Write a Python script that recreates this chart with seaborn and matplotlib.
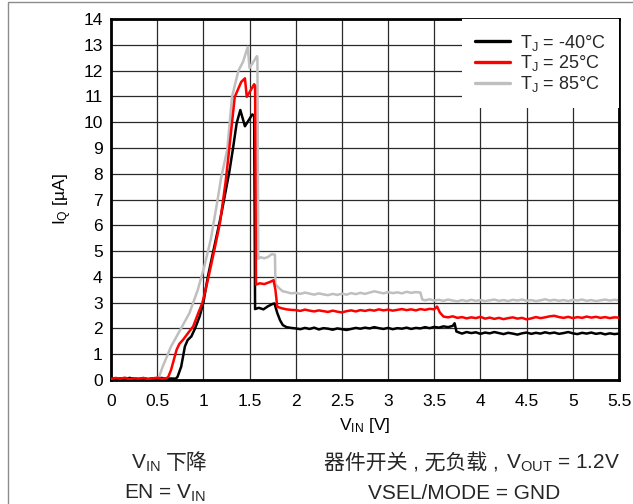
import numpy as np
import pandas as pd
import matplotlib as mpl
mpl.use('Agg')
import matplotlib.pyplot as plt
from matplotlib.patches import Rectangle
import seaborn as sns

# ---- data (V_IN [V], I_Q [uA]) ----
# T_J = -40°C
x_m40 = ([0.00, 0.05, 0.10, 0.15, 0.20, 0.25, 0.30, 0.35, 0.40, 0.45, 0.50, 0.55, 0.60, 0.65, 0.70,
          0.72, 0.76, 0.80, 0.83, 0.87, 0.91, 0.96, 1.00, 1.05, 1.12, 1.19, 1.28, 1.32, 1.36, 1.40,
          1.45, 1.53, 1.55, 1.56, 1.60, 1.65, 1.70, 1.75, 1.77, 1.80, 1.83, 1.86, 1.90, 1.95]
         + list(np.round(np.arange(2.00, 3.701, 0.05), 2)) + [3.72, 3.74]
         + list(np.round(np.arange(3.80, 5.501, 0.05), 2)))
y_m40 = [0.07, 0.04, 0.06, 0.03, 0.08, 0.05, 0.04, 0.07, 0.03, 0.06, 0.05, 0.08, 0.04, 0.06, 0.05,
         0.12, 0.52, 1.30, 1.55, 1.69, 2.00, 2.47, 3.00, 4.03, 5.20, 6.36, 8.05, 8.96, 9.95, 10.47,
         9.84, 10.30, 10.25, 2.75, 2.80, 2.74, 2.86, 2.95, 2.97, 2.60, 2.32, 2.13, 2.05, 2.02,
         2.00, 1.97, 2.02, 1.98, 2.03, 1.96, 2.01, 1.99, 1.95, 2.00, 1.97, 1.94, 1.98, 2.02, 1.99,
         2.03, 2.00, 2.05, 2.01, 1.98, 2.02, 1.97, 2.01, 1.99, 2.03, 1.98, 2.02, 2.00, 2.05, 2.01,
         2.06, 2.03, 2.08, 2.05, 2.10,
         2.20, 1.88,
         1.80, 1.86, 1.82, 1.85, 1.79, 1.84, 1.81, 1.86, 1.82, 1.78, 1.83, 1.80, 1.76, 1.81, 1.84,
         1.79, 1.83, 1.80, 1.85, 1.81, 1.84, 1.79, 1.82, 1.86, 1.81, 1.78, 1.83, 1.80, 1.84, 1.79,
         1.82, 1.77, 1.81, 1.78, 1.80]

# T_J = 25°C
x_25 = ([0.00, 0.05, 0.10, 0.15, 0.20, 0.25, 0.30, 0.35, 0.40, 0.45, 0.50, 0.55, 0.60,
         0.62, 0.65, 0.71, 0.74, 0.78, 0.83, 0.89, 0.94, 0.99, 1.05, 1.12, 1.18, 1.24, 1.28, 1.34,
         1.41, 1.45, 1.47, 1.55, 1.56, 1.57, 1.61, 1.66, 1.72, 1.76, 1.78, 1.80, 1.85, 1.90, 1.95]
        + list(np.round(np.arange(2.00, 3.501, 0.05), 2)) + [3.53, 3.56, 3.60]
        + list(np.round(np.arange(3.65, 5.501, 0.05), 2)))
y_25 = [0.04, 0.08, 0.05, 0.09, 0.03, 0.07, 0.05, 0.08, 0.04, 0.06, 0.09, 0.05, 0.07,
        0.12, 0.39, 1.17, 1.40, 1.56, 1.80, 2.08, 2.55, 3.00, 3.90, 5.06, 6.10, 7.66, 8.96, 10.98,
        11.56, 11.70, 10.98, 11.47, 11.40, 3.70, 3.75, 3.72, 3.80, 3.87, 3.50, 2.84, 2.78, 2.74, 2.72,
        2.71, 2.68, 2.73, 2.69, 2.66, 2.70, 2.67, 2.64, 2.69, 2.65, 2.62, 2.67, 2.70, 2.66, 2.71,
        2.68, 2.72, 2.69, 2.74, 2.70, 2.73, 2.69, 2.72, 2.75, 2.71, 2.74, 2.70, 2.75, 2.72, 2.76,
        2.74,
        2.85, 2.62, 2.46,
        2.43, 2.47, 2.41, 2.44, 2.39, 2.43, 2.40, 2.45, 2.38, 2.42, 2.37, 2.41, 2.36, 2.40, 2.43,
        2.38, 2.41, 2.35, 2.39, 2.44, 2.40, 2.43, 2.47, 2.49, 2.44, 2.41, 2.45, 2.40, 2.44, 2.41,
        2.46, 2.42, 2.45, 2.41, 2.44, 2.40, 2.43, 2.42]

# T_J = 85°C
x_85 = ([0.00, 0.05, 0.10, 0.15, 0.20, 0.25, 0.30, 0.35, 0.40, 0.45, 0.50,
         0.52, 0.56, 0.65, 0.74, 0.85, 0.94, 1.01, 1.08, 1.15, 1.19, 1.26, 1.31, 1.38, 1.43, 1.48,
         1.50, 1.58, 1.585, 1.595, 1.62, 1.66, 1.70, 1.74, 1.775, 1.78, 1.82, 1.86, 1.90, 1.95]
        + list(np.round(np.arange(2.00, 3.351, 0.05), 2)) + [3.37]
        + list(np.round(np.arange(3.40, 5.501, 0.05), 2)))
y_85 = [0.06, 0.03, 0.07, 0.04, 0.08, 0.05, 0.03, 0.06, 0.04, 0.07, 0.06,
        0.12, 0.52, 1.30, 1.88, 2.60, 3.50, 4.40, 5.45, 6.90, 7.80, 8.96, 10.98, 12.00, 12.34, 12.92,
        12.10, 12.56, 12.50, 4.70, 4.76, 4.72, 4.77, 4.88, 4.86, 3.72, 3.56, 3.44, 3.41, 3.36,
        3.38, 3.34, 3.39, 3.35, 3.31, 3.36, 3.32, 3.29, 3.34, 3.30, 3.35, 3.31, 3.37, 3.33, 3.38,
        3.34, 3.39, 3.44, 3.40, 3.36, 3.41, 3.37, 3.40, 3.36, 3.42, 3.38, 3.41, 3.39,
        3.12,
        3.09, 3.13, 3.08, 3.11, 3.07, 3.12, 3.08, 3.05, 3.10, 3.06, 3.11, 3.07, 3.10, 3.06, 3.09,
        3.12, 3.07, 3.10, 3.06, 3.11, 3.08, 3.12, 3.07, 3.10, 3.06, 3.09, 3.13, 3.08, 3.11, 3.07,
        3.10, 3.06, 3.11, 3.08, 3.12, 3.07, 3.10, 3.06, 3.09, 3.12, 3.08, 3.11, 3.09]

labels = [r'$\mathregular{T_J}$ = -40°C', r'$\mathregular{T_J}$ = 25°C', r'$\mathregular{T_J}$ = 85°C']
colors = ['black', '#ff0000', '#bfbfbf']
x_ticks = [0, 0.5, 1, 1.5, 2, 2.5, 3, 3.5, 4, 4.5, 5, 5.5]
x_ticklabels = ['0', '0.5', '1', '1.5', '2', '2.5', '3', '3.5', '4', '4.5', '5', '5.5']
y_ticks = list(range(0, 15))

df = pd.concat([
    pd.DataFrame({'vin': x_m40, 'iq': y_m40, 'tj': labels[0]}),
    pd.DataFrame({'vin': x_25, 'iq': y_25, 'tj': labels[1]}),
    pd.DataFrame({'vin': x_85, 'iq': y_85, 'tj': labels[2]}),
], ignore_index=True)

sns.set_theme(style='white')
plt.rcParams['font.family'] = ['Liberation Sans', 'Noto Sans CJK SC']
plt.rcParams['mathtext.fontset'] = 'custom'
plt.rcParams['mathtext.rm'] = 'Liberation Sans'
plt.rcParams['mathtext.it'] = 'Liberation Sans:italic'
plt.rcParams['mathtext.bf'] = 'Liberation Sans:bold'
plt.rcParams['font.size'] = 12

fig = plt.figure(figsize=(6.33, 5.04), dpi=100)
ax = fig.add_axes([111 / 633, 1 - 380 / 504, 508 / 633, 361 / 504])

sns.lineplot(data=df, x='vin', y='iq', hue='tj', hue_order=labels,
             palette=dict(zip(labels, colors)), estimator=None, sort=False,
             linewidth=1.8, ax=ax)
# draw order: gray at the back, red on top
for line, z in zip(ax.lines, [3, 4, 2]):
    line.set_zorder(z)

ax.set_xlim(0, 5.5)
ax.set_ylim(0, 14)
ax.set_xticks(x_ticks)
ax.set_xticklabels(x_ticklabels)
ax.set_yticks(y_ticks)
ax.tick_params(axis='both', length=0, labelsize=12.5, colors='black')
ax.tick_params(axis='y', pad=6)
ax.tick_params(axis='x', pad=10)
ax.grid(True, color='#2a2a2a', linewidth=0.9)
ax.set_axisbelow(True)
for sp in ax.spines.values():
    sp.set_color('black')
    sp.set_linewidth(2)

ax.set_xlabel(r'$\mathregular{V_{IN}}$ [V]', fontsize=12.5, color='black')
ax.set_ylabel(r'$\mathregular{I_Q}$ [µA]', fontsize=12.5, color='black')
ax.xaxis.set_label_coords(0.5, -0.1)
ax.yaxis.set_label_coords(-0.072, 0.5)

leg = ax.legend(loc='upper right', borderaxespad=0, frameon=True, fancybox=False,
                framealpha=1, facecolor='white', edgecolor='white', fontsize=13,
                handlelength=1.95, handletextpad=0.5, labelspacing=0.05,
                borderpad=0.75)
leg.get_frame().set_linewidth(0)
for h in leg.get_lines():
    h.set_linewidth(2.4)

# notes under the chart
H = 504
W = 633
y1 = 1 - 469 / H
y2 = 1 - 499 / H
fs = 15
fig.text(161 / W, y1, r'$\mathregular{V_{IN}}$', ha='right', va='baseline', fontsize=fs)
fig.text(166 / W, y1, '下降', ha='left', va='baseline', fontsize=fs,
         family=['Noto Sans CJK SC'])
fig.text(165 / W, y2, r'EN = $\mathregular{V_{IN}}$', ha='center', va='baseline', fontsize=fs)
fig.text(504 / W, y1, '器件开关 , 无负载 , ', ha='right', va='baseline', fontsize=fs)
fig.text(506 / W, y1, r'$\mathregular{V_{OUT}}$ = 1.2V', ha='left', va='baseline', fontsize=fs)
fig.text(464 / W, y2, 'VSEL/MODE = GND', ha='center', va='baseline', fontsize=fs)

# thin gray frame of the page
fig.patches.append(Rectangle((8 / W, -0.02), 1.0, 1 - 2 / H + 0.02, transform=fig.transFigure,
                             fill=False, edgecolor='#8c8c8c', linewidth=1.0))

fig.savefig('out.png', dpi=100)
